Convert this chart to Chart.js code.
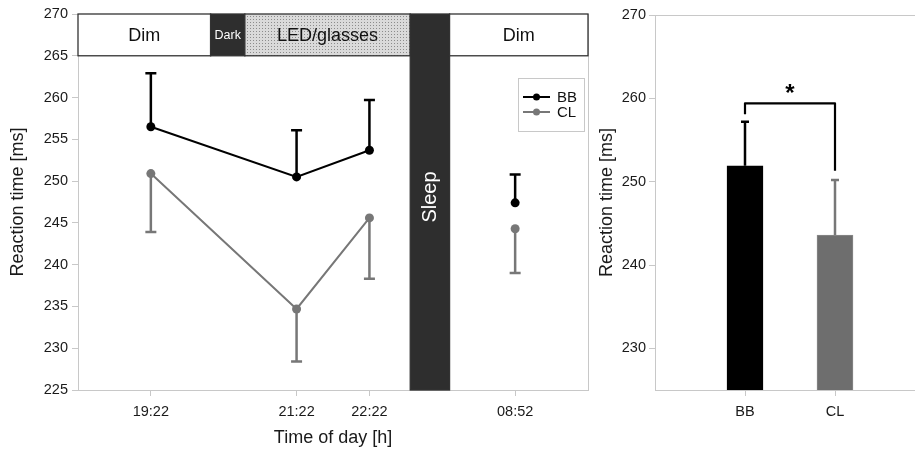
<!DOCTYPE html>
<html>
<head>
<meta charset="utf-8">
<script src="https://cdn.jsdelivr.net/npm/chart.js@4.4.0/dist/chart.umd.min.js"></script>
<style>
html,body{margin:0;padding:0;background:#fff;overflow:hidden;width:915px;height:450px;}
#timeChart{position:absolute;left:0;top:0;}
#groupChart{position:absolute;left:596px;top:0;}
</style>
</head>
<body>
<canvas id="timeChart" width="600" height="450"></canvas>
<canvas id="groupChart" width="329" height="450"></canvas>
<script>
'use strict';
// left panel: reaction time over the evening and next morning
let timeLabels=['19:22','21:22','22:22','08:52'];
let timePos=[0,2,3,5]; // hours after 19:22, the night is squeezed
let bbMean=[256.5,250.5,253.7,247.4];
let bbSem=[6.4,5.6,6.0,3.4];
let clMean=[250.9,234.7,245.6,244.3];
let clSem=[7.0,6.3,7.3,5.3];
let timeTicks=[225,230,235,240,245,250,255,260,265,270];

// light phases along the top (same hours as timePos)
let phaseNames=['Dim','Dark','LED/glasses','Sleep','Dim'];
let phaseStart=[-1,0.82,1.29,3.56,4.1];
let phaseEnd=[0.82,1.29,3.56,4.1,6];

// right panel: mean over the session
let groups=['BB','CL'];
let groupMean=[251.9,243.6];
let groupSem=[5.3,6.6];
let groupTicks=[230,240,250,260,270];
let bracketLevel=259.4;
let bracketEnds=[258.1,251.3];

let fontFamily='"Liberation Sans", Arial, Helvetica, sans-serif';
Chart.defaults.font.family=fontFamily;
Chart.defaults.color='#1a1a1a';
Chart.defaults.animation=false;

let axisGray='#c8c8c8';
let darkBand='#2e2e2e';

function dotPattern(){
  let c=document.createElement('canvas');
  c.width=3; c.height=3;
  let g=c.getContext('2d');
  g.fillStyle='#dadada';
  g.fillRect(0,0,3,3);
  g.fillStyle='#8c8c8c';
  g.fillRect(1,1,1,1);
  return g.createPattern(c,'repeat');
}

let phaseLook={
  'Dim':{fill:'#fff',text:'#111',size:18},
  'Dark':{fill:darkBand,text:'#fff',size:12.5},
  'LED/glasses':{fill:dotPattern(),text:'#111',size:18},
  'Sleep':{fill:darkBand,text:'#fff',size:20}
};

let frame={
  id:'frame',
  beforeDatasetsDraw(chart){
    let a=chart.chartArea;
    let ctx=chart.ctx;
    ctx.save();
    ctx.strokeStyle=axisGray;
    ctx.lineWidth=1;
    ctx.strokeRect(a.left+0.5,a.top+0.5,a.right-a.left,a.bottom-a.top);
    ctx.restore();
  }
};

let phases={
  id:'phases',
  beforeDatasetsDraw(chart){
    let ctx=chart.ctx;
    let x=chart.scales.x;
    let y=chart.scales.y;
    let a=chart.chartArea;
    let bandTop=y.getPixelForValue(270);
    let bandBottom=y.getPixelForValue(265);
    ctx.save();
    for(let i=0;i<phaseNames.length;i++){
      let look=phaseLook[phaseNames[i]];
      let x0=x.getPixelForValue(phaseStart[i]);
      let x1=x.getPixelForValue(phaseEnd[i]);
      let full=phaseNames[i]==='Sleep';
      let y1=full ? a.bottom : bandBottom;
      ctx.fillStyle=look.fill;
      ctx.fillRect(x0,bandTop,x1-x0,y1-bandTop);
      ctx.strokeStyle='#333';
      ctx.lineWidth=1.3;
      ctx.strokeRect(x0,bandTop,x1-x0,y1-bandTop);
      ctx.fillStyle=look.text;
      ctx.font=look.size+'px '+fontFamily;
      ctx.textAlign='center';
      ctx.textBaseline='middle';
      if(full){
        ctx.save();
        ctx.translate((x0+x1)/2,(a.top+a.bottom)/2-5);
        ctx.rotate(-Math.PI/2);
        ctx.fillText(phaseNames[i],0,1);
        ctx.restore();
      }else{
        ctx.fillText(phaseNames[i],(x0+x1)/2,(bandTop+bandBottom)/2+1);
      }
    }
    ctx.restore();
  }
};

let errorBars={
  id:'errorBars',
  afterDatasetsDraw(chart){
    let ctx=chart.ctx;
    let y=chart.scales.y;
    chart.data.datasets.forEach(function(ds,d){
      if(!ds.errors){
        return;
      }
      let meta=chart.getDatasetMeta(d);
      meta.data.forEach(function(el,i){
        let end=y.getPixelForValue(ds.data[i].y+ds.errDir*ds.errors[i]);
        let col=Array.isArray(ds.errColor) ? ds.errColor[i] : ds.errColor;
        ctx.save();
        ctx.strokeStyle=col;
        ctx.lineWidth=2.5;
        ctx.beginPath();
        ctx.moveTo(el.x,el.y);
        ctx.lineTo(el.x,end);
        ctx.moveTo(el.x-ds.cap,end);
        ctx.lineTo(el.x+ds.cap,end);
        ctx.stroke();
        ctx.restore();
      });
    });
  }
};

let legendBox={
  id:'legendBox',
  afterDraw(chart){
    let ctx=chart.ctx;
    let left=518, top=78, w=66, h=53;
    ctx.save();
    ctx.fillStyle='#fff';
    ctx.fillRect(left,top,w,h);
    ctx.strokeStyle=axisGray;
    ctx.lineWidth=1;
    ctx.strokeRect(left+0.5,top+0.5,w,h);
    chart.data.datasets.forEach(function(ds,i){
      let cy=top+19+i*15;
      ctx.strokeStyle=ds.borderColor;
      ctx.lineWidth=2;
      ctx.beginPath();
      ctx.moveTo(left+5,cy);
      ctx.lineTo(left+32,cy);
      ctx.stroke();
      ctx.fillStyle=ds.borderColor;
      ctx.beginPath();
      ctx.arc(left+18.5,cy,3.5,0,Math.PI*2);
      ctx.fill();
      ctx.fillStyle='#111';
      ctx.font='15px '+fontFamily;
      ctx.textAlign='left';
      ctx.textBaseline='middle';
      ctx.fillText(ds.label,left+39,cy+1);
    });
    ctx.restore();
  }
};

let bracket={
  id:'bracket',
  afterDatasetsDraw(chart){
    let ctx=chart.ctx;
    let x=chart.scales.x;
    let y=chart.scales.y;
    let xa=x.getPixelForValue(1);
    let xb=x.getPixelForValue(2);
    let yl=y.getPixelForValue(bracketLevel);
    ctx.save();
    ctx.strokeStyle='#000';
    ctx.lineWidth=2.2;
    ctx.lineJoin='round';
    ctx.beginPath();
    ctx.moveTo(xa,y.getPixelForValue(bracketEnds[0]));
    ctx.lineTo(xa,yl);
    ctx.lineTo(xb,yl);
    ctx.lineTo(xb,y.getPixelForValue(bracketEnds[1]));
    ctx.stroke();
    ctx.fillStyle='#000';
    ctx.font='bold 24px '+fontFamily;
    ctx.textAlign='center';
    ctx.textBaseline='middle';
    ctx.fillText('*',(xa+xb)/2,yl-9);
    ctx.restore();
  }
};

let afterSleep=timePos.findIndex(function(v){
  return v>phaseStart[phaseNames.indexOf('Sleep')];
});

function points(means){
  return timePos.map(function(v,i){
    return {x:v,y:means[i]};
  });
}

function lineSet(label,color,means,sems,dir){
  return {
    label:label,
    data:points(means),
    borderColor:color,
    backgroundColor:color,
    borderWidth:2,
    pointRadius:4.5,
    pointBorderWidth:0,
    pointBackgroundColor:color,
    errors:sems,
    errDir:dir,
    errColor:color,
    cap:5.5,
    segment:{
      borderColor:function(c){
        return c.p1DataIndex===afterSleep ? 'rgba(0,0,0,0)' : undefined;
      }
    }
  };
}

let tickFont={size:14.5};
let titleFont={size:18};

new Chart(document.getElementById('timeChart'),{
  type:'line',
  data:{
    datasets:[
      lineSet('BB','#000',bbMean,bbSem,1),
      lineSet('CL','#777',clMean,clSem,-1)
    ]
  },
  options:{
    responsive:false,
    layout:{padding:{top:14,right:12,left:0,bottom:0}},
    plugins:{legend:{display:false},tooltip:{enabled:false}},
    scales:{
      x:{
        type:'linear',
        min:phaseStart[0],
        max:phaseEnd[phaseEnd.length-1],
        afterFit:function(s){ s.height=60; },
        afterBuildTicks:function(s){
          s.ticks=timePos.map(function(v){ return {value:v}; });
        },
        ticks:{
          autoSkip:false,
          maxRotation:0,
          padding:7,
          font:tickFont,
          callback:function(v,i){ return timeLabels[i]; }
        },
        grid:{drawOnChartArea:false,tickLength:6,color:axisGray},
        border:{color:axisGray},
        title:{display:true,text:'Time of day [h]',font:titleFont,padding:{top:0,bottom:1}}
      },
      y:{
        min:timeTicks[0],
        max:timeTicks[timeTicks.length-1],
        afterFit:function(s){ s.width=78; },
        afterBuildTicks:function(s){
          s.ticks=timeTicks.map(function(v){ return {value:v}; });
        },
        ticks:{padding:4,font:tickFont},
        grid:{drawOnChartArea:false,tickLength:6,color:axisGray},
        border:{color:axisGray},
        title:{display:true,text:'Reaction time [ms]',font:titleFont,padding:{top:7,bottom:0}}
      }
    }
  },
  plugins:[frame,phases,errorBars,legendBox]
});

new Chart(document.getElementById('groupChart'),{
  type:'bar',
  data:{
    datasets:[{
      label:'Reaction time',
      data:groups.map(function(g,i){ return {x:i+1,y:groupMean[i]}; }),
      backgroundColor:['#000','#6e6e6e'],
      borderColor:['#000','#8a8a8a'],
      borderWidth:1,
      barThickness:36,
      errors:groupSem,
      errDir:1,
      errColor:['#000','#777'],
      cap:4
    }]
  },
  options:{
    responsive:false,
    layout:{padding:{top:15,right:0,left:0,bottom:0}},
    plugins:{legend:{display:false},tooltip:{enabled:false}},
    scales:{
      x:{
        type:'linear',
        offset:false,
        min:0,
        max:groups.length+1,
        afterFit:function(s){ s.height=60; },
        afterBuildTicks:function(s){
          s.ticks=groups.map(function(g,i){ return {value:i+1}; });
        },
        ticks:{
          autoSkip:false,
          maxRotation:0,
          padding:7,
          font:tickFont,
          callback:function(v,i){ return groups[i]; }
        },
        grid:{drawOnChartArea:false,offset:false,tickLength:6,color:axisGray},
        border:{color:axisGray}
      },
      y:{
        min:225,
        max:groupTicks[groupTicks.length-1],
        afterFit:function(s){ s.width=59; },
        afterBuildTicks:function(s){
          s.ticks=groupTicks.map(function(v){ return {value:v}; });
        },
        ticks:{padding:3,font:tickFont},
        grid:{drawOnChartArea:false,tickLength:6,color:axisGray},
        border:{color:axisGray},
        title:{display:true,text:'Reaction time [ms]',font:titleFont,padding:{top:0,bottom:0}}
      }
    }
  },
  plugins:[frame,errorBars,bracket]
});
</script>
</body>
</html>
